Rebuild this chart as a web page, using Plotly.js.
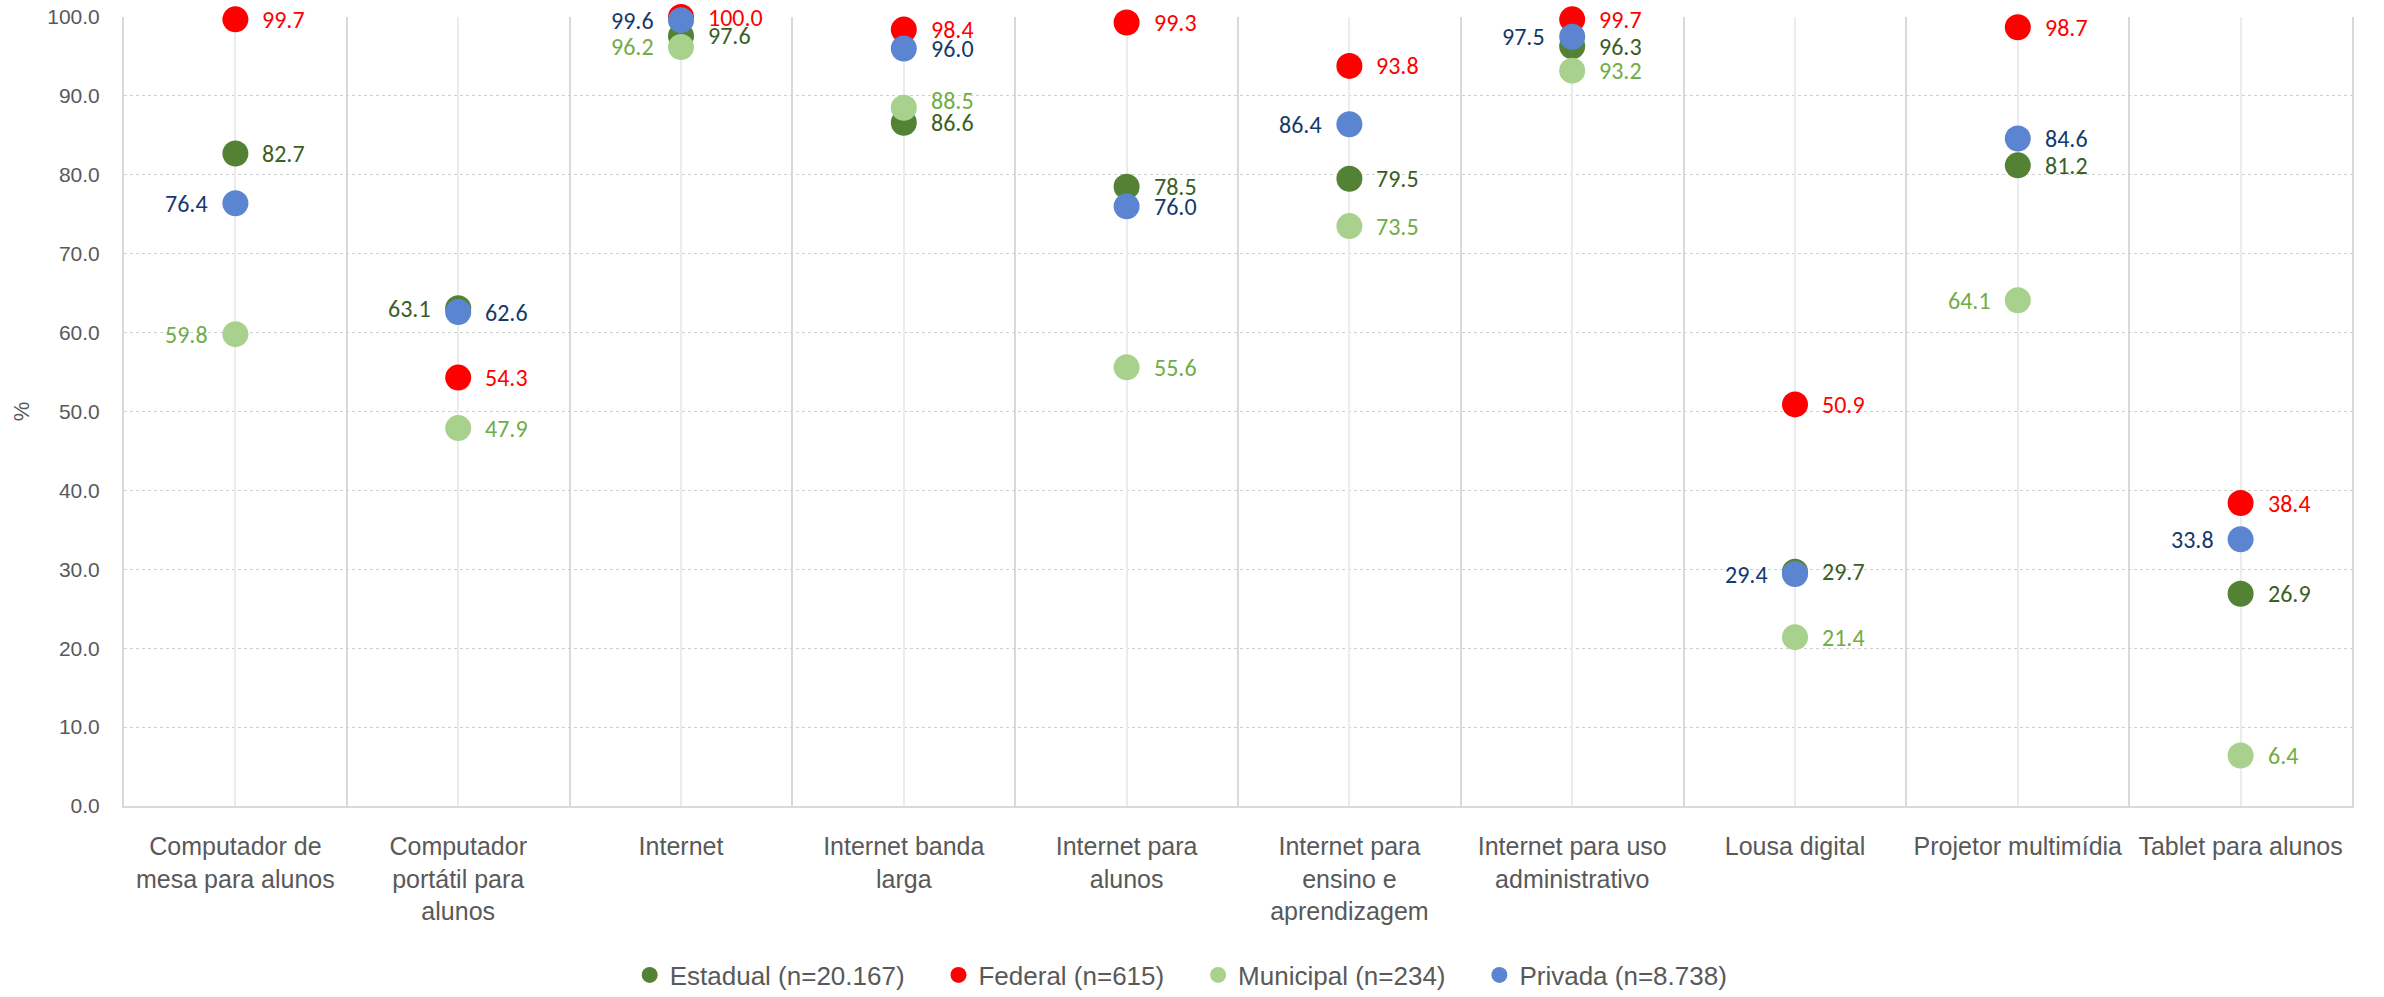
<!DOCTYPE html>
<html>
<head>
<meta charset="utf-8">
<script src="https://cdn.plot.ly/plotly-3.0.1.min.js"></script>
<style>html,body{margin:0;padding:0;background:#fff;}#chart{width:2384px;height:997px;}</style>
</head>
<body>
<div id="chart"></div>
<script>
// ---- data ----
var categories = [
  "Computador de mesa para alunos",
  "Computador portátil para alunos",
  "Internet",
  "Internet banda larga",
  "Internet para alunos",
  "Internet para ensino e aprendizagem",
  "Internet para uso administrativo",
  "Lousa digital",
  "Projetor multimídia",
  "Tablet para alunos"
];
var tickLabels = [
  "Computador de<br>mesa para alunos",
  "Computador<br>portátil para<br>alunos",
  "Internet",
  "Internet banda<br>larga",
  "Internet para<br>alunos",
  "Internet para<br>ensino e<br>aprendizagem",
  "Internet para uso<br>administrativo",
  "Lousa digital",
  "Projetor multimídia",
  "Tablet para alunos"
];
var seriesNames = ["Estadual (n=20.167)", "Federal (n=615)", "Municipal (n=234)", "Privada (n=8.738)"];
var estadual  = [82.7, 63.1, 97.6, 86.6, 78.5, 79.5, 96.3, 29.7, 81.2, 26.9];
var federal   = [99.7, 54.3, 100.0, 98.4, 99.3, 93.8, 99.7, 50.9, 98.7, 38.4];
var municipal = [59.8, 47.9, 96.2, 88.5, 55.6, 73.5, 93.2, 21.4, 64.1, 6.4];
var privada   = [76.4, 62.6, 99.6, 96.0, 76.0, 86.4, 97.5, 29.4, 84.6, 33.8];
var yTicks = [0, 10, 20, 30, 40, 50, 60, 70, 80, 90, 100];

// ---- label placement (layout only) ----
var sideEstadual  = ['r','l','r','r','r','r','r','r','r','r'];
var sideFederal   = ['r','r','r','r','r','r','r','r','r','r'];
var sideMunicipal = ['l','r','l','r','r','r','r','r','l','r'];
var sidePrivada   = ['l','r','l','r','r','l','l','l','r','l'];
var shiftMunicipal = [0,0,0,7,0,0,0,0,0,0];

var markerColors = ['#548235', '#FF0000', '#A9D18E', '#5B85D0'];
var labelColors  = ['#3B5E24', '#FF0000', '#70AD47', '#16396B'];

var allValues = [estadual, federal, municipal, privada];
var allSides = [sideEstadual, sideFederal, sideMunicipal, sidePrivada];
var legendPad = '\u00a0\u00a0\u00a0\u00a0';

var traces = [];
allValues.forEach(function(vals, i){
  traces.push({
    type: 'scatter', mode: 'markers', name: seriesNames[i] + (i < 3 ? legendPad : ''),
    x: categories, y: vals,
    marker: {color: markerColors[i], size: 26, line: {width: 0}},
    cliponaxis: false,
    hoverinfo: 'x+y+name'
  });
});
// helper trace for the centre gridlines on the overlay axis
traces.push({
  type: 'scatter', mode: 'markers', x: categories, y: categories.map(function(){return null;}),
  xaxis: 'x2', showlegend: false, hoverinfo: 'skip', marker: {opacity: 0}
});

var annotations = [];
allValues.forEach(function(vals, i){
  vals.forEach(function(v, j){
    var side = allSides[i][j];
    annotations.push({
      x: categories[j], y: v, xref: 'x', yref: 'y',
      text: v.toFixed(1), showarrow: false,
      xanchor: side === 'r' ? 'left' : 'right',
      yanchor: 'middle',
      xshift: side === 'r' ? 25 : -25,
      yshift: i === 2 ? shiftMunicipal[j] : 0,
      font: {family: 'Carlito, Lato, "Liberation Sans", Arial, sans-serif', size: 24, color: labelColors[i]}
    });
  });
});

var layout = {
  width: 2384, height: 997,
  margin: {l: 124, r: 32, t: 17, b: 191, pad: 0, autoexpand: false},
  paper_bgcolor: '#ffffff', plot_bgcolor: 'rgba(0,0,0,0)',
  showlegend: true,
  legend: {
    orientation: 'h', xref: 'paper', x: 0.4745, xanchor: 'center',
    yref: 'container', y: 0.022, yanchor: 'middle',
    font: {family: '"Liberation Sans", Arial, sans-serif', size: 26, color: '#595959'},
    traceorder: 'normal', itemclick: false
  },
  xaxis: {
    type: 'category', categoryorder: 'array', categoryarray: categories,
    range: [-0.5, 9.5],
    tickmode: 'array', tickvals: categories, ticktext: tickLabels,
    tickson: 'boundaries', ticks: '', ticklabelstandoff: 17,
    tickangle: 0,
    showgrid: true, gridcolor: '#d9d9d9', gridwidth: 2,
    showline: true, linecolor: '#d9d9d9', linewidth: 2, mirror: false,
    zeroline: false,
    tickfont: {family: '"Liberation Sans", Arial, sans-serif', size: 25, color: '#595959'},
    fixedrange: true
  },
  xaxis2: {
    type: 'category', categoryorder: 'array', categoryarray: categories,
    range: [-0.5, 9.5], overlaying: 'x',
    showticklabels: false, ticks: '',
    showgrid: true, gridcolor: '#ececec', gridwidth: 1.5,
    showline: false, zeroline: false, fixedrange: true
  },
  yaxis: {
    range: [0, 100], tickmode: 'array', tickvals: yTicks,
    ticktext: yTicks.map(function(t){return t.toFixed(1);}),
    ticks: 'outside', ticklen: 18, tickcolor: 'rgba(0,0,0,0)',
    showgrid: true, gridcolor: '#d0d0d0', gridwidth: 1, griddash: 'dot',
    showline: true, linecolor: '#d9d9d9', linewidth: 2, mirror: false,
    zeroline: false,
    tickfont: {family: '"Liberation Sans", Arial, sans-serif', size: 21, color: '#595959'},
    title: {text: '%', standoff: 12, font: {family: '"Liberation Sans", Arial, sans-serif', size: 22, color: '#595959'}},
    fixedrange: true
  },
  annotations: annotations
};

// right-hand frame edge via an overlaid y axis line on the right
layout.yaxis3 = {overlaying: 'y', side: 'right', range: [0, 100], showticklabels: false, ticks: '',
  showgrid: false, zeroline: false, showline: true, linecolor: '#d9d9d9', linewidth: 2, fixedrange: true};
traces.push({type: 'scatter', mode: 'markers', x: categories, y: categories.map(function(){return null;}),
  yaxis: 'y3', showlegend: false, hoverinfo: 'skip', marker: {opacity: 0}});

Plotly.newPlot('chart', traces, layout, {displayModeBar: false});
</script>
</body>
</html>
